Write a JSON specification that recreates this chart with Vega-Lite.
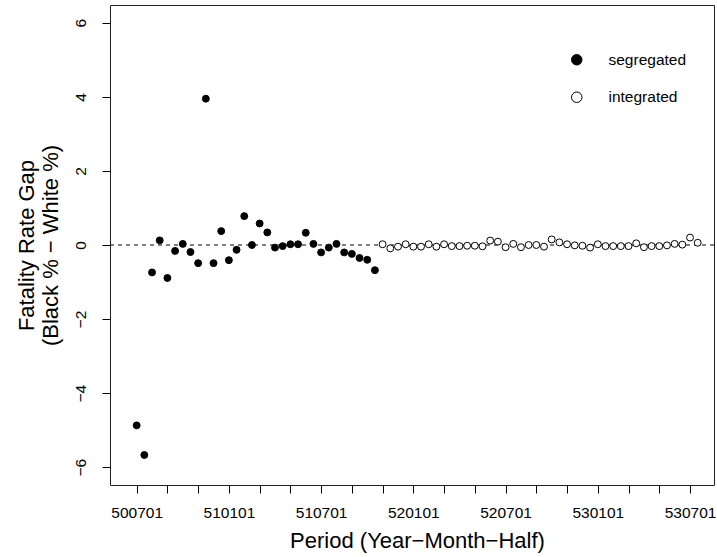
{
  "$schema": "https://vega.github.io/schema/vega-lite/v6.json",
  "width": 604,
  "height": 480,
  "autosize": "none",
  "padding": {"left": 110, "top": 5, "right": 3, "bottom": 72},
  "background": "white",
  "config": {
    "font": "Liberation Sans",
    "view": {"stroke": "#222", "strokeWidth": 1},
    "axis": {"grid": false, "domain": false, "tickColor": "black", "labelColor": "black", "titleColor": "black", "labelFontSize": 15.5, "titleFontSize": 22, "titleFontWeight": "normal", "tickSize": 8},
    "legend": {"labelFontSize": 15.5, "labelColor": "black"}
  },
  "layer": [
    {
      "data": {"values": [{"ref": 0}]},
      "mark": {"type": "rule", "strokeDash": [4, 4], "color": "black", "strokeWidth": 1},
      "encoding": {"y": {"datum": 0}}
    },
    {
      "data": {"values": [
        {"idx": 1, "period": "500701", "gap": -4.87, "group": "segregated"},
        {"idx": 2, "period": "500702", "gap": -5.67, "group": "segregated"},
        {"idx": 3, "period": "500801", "gap": -0.74, "group": "segregated"},
        {"idx": 4, "period": "500802", "gap": 0.125, "group": "segregated"},
        {"idx": 5, "period": "500901", "gap": -0.89, "group": "segregated"},
        {"idx": 6, "period": "500902", "gap": -0.16, "group": "segregated"},
        {"idx": 7, "period": "501001", "gap": 0.03, "group": "segregated"},
        {"idx": 8, "period": "501002", "gap": -0.19, "group": "segregated"},
        {"idx": 9, "period": "501101", "gap": -0.49, "group": "segregated"},
        {"idx": 10, "period": "501102", "gap": 3.95, "group": "segregated"},
        {"idx": 11, "period": "501201", "gap": -0.49, "group": "segregated"},
        {"idx": 12, "period": "501202", "gap": 0.375, "group": "segregated"},
        {"idx": 13, "period": "510101", "gap": -0.41, "group": "segregated"},
        {"idx": 14, "period": "510102", "gap": -0.13, "group": "segregated"},
        {"idx": 15, "period": "510201", "gap": 0.78, "group": "segregated"},
        {"idx": 16, "period": "510202", "gap": 0.0, "group": "segregated"},
        {"idx": 17, "period": "510301", "gap": 0.58, "group": "segregated"},
        {"idx": 18, "period": "510302", "gap": 0.34, "group": "segregated"},
        {"idx": 19, "period": "510401", "gap": -0.07, "group": "segregated"},
        {"idx": 20, "period": "510402", "gap": -0.03, "group": "segregated"},
        {"idx": 21, "period": "510501", "gap": 0.02, "group": "segregated"},
        {"idx": 22, "period": "510502", "gap": 0.02, "group": "segregated"},
        {"idx": 23, "period": "510601", "gap": 0.33, "group": "segregated"},
        {"idx": 24, "period": "510602", "gap": 0.03, "group": "segregated"},
        {"idx": 25, "period": "510701", "gap": -0.2, "group": "segregated"},
        {"idx": 26, "period": "510702", "gap": -0.07, "group": "segregated"},
        {"idx": 27, "period": "510801", "gap": 0.03, "group": "segregated"},
        {"idx": 28, "period": "510802", "gap": -0.2, "group": "segregated"},
        {"idx": 29, "period": "510901", "gap": -0.24, "group": "segregated"},
        {"idx": 30, "period": "510902", "gap": -0.35, "group": "segregated"},
        {"idx": 31, "period": "511001", "gap": -0.4, "group": "segregated"},
        {"idx": 32, "period": "511002", "gap": -0.68, "group": "segregated"},
        {"idx": 33, "period": "511101", "gap": 0.02, "group": "integrated"},
        {"idx": 34, "period": "511102", "gap": -0.09, "group": "integrated"},
        {"idx": 35, "period": "511201", "gap": -0.045, "group": "integrated"},
        {"idx": 36, "period": "511202", "gap": 0.02, "group": "integrated"},
        {"idx": 37, "period": "520101", "gap": -0.045, "group": "integrated"},
        {"idx": 38, "period": "520102", "gap": -0.045, "group": "integrated"},
        {"idx": 39, "period": "520201", "gap": 0.02, "group": "integrated"},
        {"idx": 40, "period": "520202", "gap": -0.045, "group": "integrated"},
        {"idx": 41, "period": "520301", "gap": 0.02, "group": "integrated"},
        {"idx": 42, "period": "520302", "gap": -0.03, "group": "integrated"},
        {"idx": 43, "period": "520401", "gap": -0.03, "group": "integrated"},
        {"idx": 44, "period": "520402", "gap": -0.02, "group": "integrated"},
        {"idx": 45, "period": "520501", "gap": -0.02, "group": "integrated"},
        {"idx": 46, "period": "520502", "gap": -0.035, "group": "integrated"},
        {"idx": 47, "period": "520601", "gap": 0.12, "group": "integrated"},
        {"idx": 48, "period": "520602", "gap": 0.09, "group": "integrated"},
        {"idx": 49, "period": "520701", "gap": -0.06, "group": "integrated"},
        {"idx": 50, "period": "520702", "gap": 0.03, "group": "integrated"},
        {"idx": 51, "period": "520801", "gap": -0.06, "group": "integrated"},
        {"idx": 52, "period": "520802", "gap": 0.0, "group": "integrated"},
        {"idx": 53, "period": "520901", "gap": 0.0, "group": "integrated"},
        {"idx": 54, "period": "520902", "gap": -0.045, "group": "integrated"},
        {"idx": 55, "period": "521001", "gap": 0.15, "group": "integrated"},
        {"idx": 56, "period": "521002", "gap": 0.07, "group": "integrated"},
        {"idx": 57, "period": "521101", "gap": 0.02, "group": "integrated"},
        {"idx": 58, "period": "521102", "gap": -0.01, "group": "integrated"},
        {"idx": 59, "period": "521201", "gap": -0.02, "group": "integrated"},
        {"idx": 60, "period": "521202", "gap": -0.07, "group": "integrated"},
        {"idx": 61, "period": "530101", "gap": 0.02, "group": "integrated"},
        {"idx": 62, "period": "530102", "gap": -0.03, "group": "integrated"},
        {"idx": 63, "period": "530201", "gap": -0.03, "group": "integrated"},
        {"idx": 64, "period": "530202", "gap": -0.03, "group": "integrated"},
        {"idx": 65, "period": "530301", "gap": -0.03, "group": "integrated"},
        {"idx": 66, "period": "530302", "gap": 0.045, "group": "integrated"},
        {"idx": 67, "period": "530401", "gap": -0.06, "group": "integrated"},
        {"idx": 68, "period": "530402", "gap": -0.03, "group": "integrated"},
        {"idx": 69, "period": "530501", "gap": -0.03, "group": "integrated"},
        {"idx": 70, "period": "530502", "gap": -0.01, "group": "integrated"},
        {"idx": 71, "period": "530601", "gap": 0.03, "group": "integrated"},
        {"idx": 72, "period": "530602", "gap": 0.01, "group": "integrated"},
        {"idx": 73, "period": "530701", "gap": 0.2, "group": "integrated"},
        {"idx": 74, "period": "530702", "gap": 0.06, "group": "integrated"}
      ]},
      "mark": {"type": "point", "filled": true, "stroke": "black", "strokeWidth": 1, "size": 48, "opacity": 1},
      "encoding": {
        "x": {
          "field": "idx", "type": "quantitative",
          "scale": {"domain": [-2.47, 76.12], "nice": false, "zero": false},
          "axis": {
            "title": "Period (Year\u2212Month\u2212Half)",
            "values": [1, 5, 9, 13, 17, 21, 25, 29, 33, 37, 41, 45, 49, 53, 57, 61, 65, 69, 73],
            "labelExpr": "datum.value == 1 ? '500701' : datum.value == 13 ? '510101' : datum.value == 25 ? '510701' : datum.value == 37 ? '520101' : datum.value == 49 ? '520701' : datum.value == 61 ? '530101' : datum.value == 73 ? '530701' : ''",
            "labelOverlap": false,
            "labelFlush": false,
            "labelPadding": 12.5,
            "titleX": 307,
            "titleY": 62,
            "titleAlign": "center",
            "titleBaseline": "alphabetic"
          }
        },
        "y": {
          "field": "gap", "type": "quantitative",
          "scale": {"domain": [-6.48, 6.48], "nice": false, "zero": false},
          "axis": {
            "title": ["Fatality Rate Gap", "(Black % \u2212 White %)"],
            "values": [-6, -4, -2, 0, 2, 4, 6],
            "labelAngle": -90,
            "labelAlign": "center",
            "labelBaseline": "bottom",
            "labelPadding": 14,
            "titleX": -77,
            "titleY": 240,
            "titleAngle": -90,
            "titleAlign": "center",
            "titleBaseline": "alphabetic",
            "titleLineHeight": 24
          }
        },
        "fill": {
          "field": "group", "type": "nominal",
          "scale": {"domain": ["segregated", "integrated"], "range": ["black", "white"]},
          "legend": {
            "title": null,
            "orient": "none",
            "legendX": 459,
            "legendY": 47,
            "padding": 0,
            "labelOffset": 24,
            "rowPadding": 20.5,
            "symbolSize": 110,
            "symbolType": "circle",
            "symbolStrokeColor": "black",
            "symbolStrokeWidth": 1
          }
        }
      }
    }
  ]
}
